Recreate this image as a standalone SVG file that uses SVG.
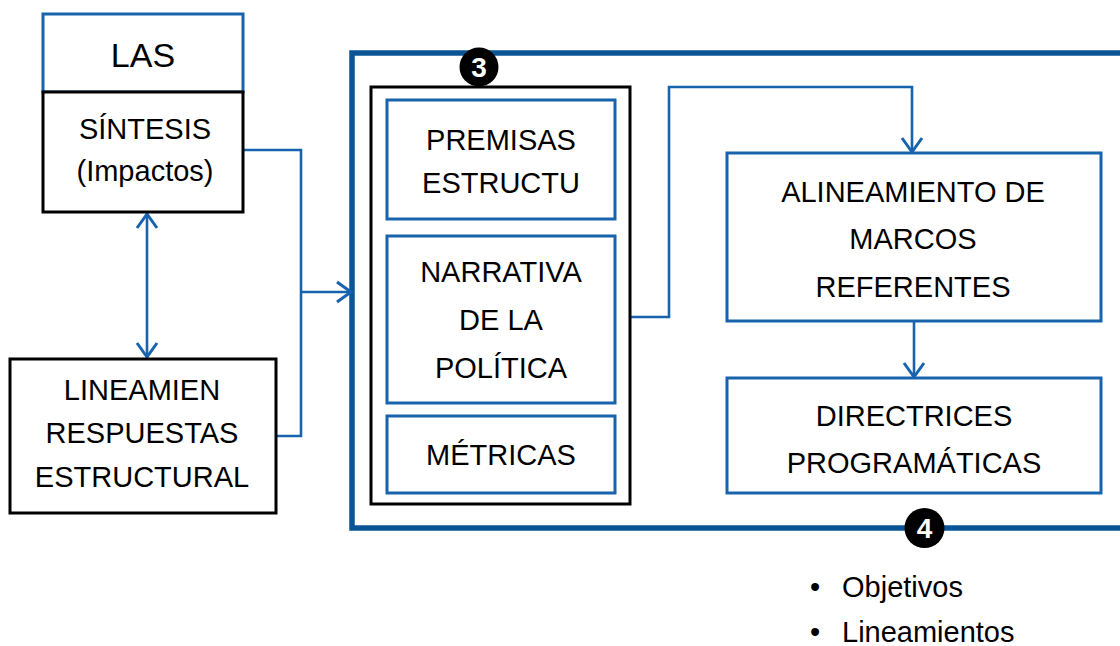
<svg xmlns="http://www.w3.org/2000/svg" width="1120" height="646" viewBox="0 0 1120 646">
<defs>
<style>
.t{font-family:"Liberation Sans",Arial,sans-serif;font-size:29px;fill:#000;text-anchor:middle}
.bb{fill:#fff;stroke:#1763ae;stroke-width:3}
.kb{fill:#fff;stroke:#000;stroke-width:3}
.c{fill:none;stroke:#1763ae;stroke-width:2.6}
.num{font-family:"Liberation Sans",Arial,sans-serif;font-size:28px;font-weight:bold;fill:#fff;text-anchor:middle}
</style>
<marker id="ah" viewBox="0 0 20 24" refX="17" refY="12" markerWidth="20" markerHeight="24" markerUnits="userSpaceOnUse" orient="auto-start-reverse">
<path d="M3,2 L17,12 L3,22" fill="none" stroke="#1763ae" stroke-width="3"/>
</marker>
</defs>
<rect width="1120" height="646" fill="#fff"/>

<g id="frame">
<rect x="352" y="53" width="790" height="475" fill="none" stroke="#0b5596" stroke-width="5.5"/>
</g>

<g id="connectors">
<path class="c" d="M243,150 H301 V436 H276"/>
<path class="c" d="M301,292 H351" marker-end="url(#ah)"/>
<path class="c" d="M147,214 V357" marker-start="url(#ah)" marker-end="url(#ah)"/>
<path class="c" d="M615,317 H669 V87 H912 V152" marker-end="url(#ah)"/>
<path class="c" d="M914,321 V377" marker-end="url(#ah)"/>
</g>

<g id="las">
<rect x="43" y="14" width="200" height="78" class="bb"/>
<text class="t" x="143" y="67" style="font-size:34px">LAS</text>
</g>
<g id="sintesis">
<rect x="43" y="92" width="200" height="120" class="kb"/>
<text class="t" x="145" y="139">SÍNTESIS</text>
<text class="t" x="145" y="181">(Impactos)</text>
</g>
<g id="lineamien">
<rect x="10" y="359" width="266" height="154" class="kb"/>
<text class="t" x="142" y="400">LINEAMIEN</text>
<text class="t" x="142" y="443">RESPUESTAS</text>
<text class="t" x="142" y="487">ESTRUCTURAL</text>
</g>

<g id="group3">
<rect x="371" y="87" width="259" height="417" class="kb"/>
</g>
<g id="premisas">
<rect x="387" y="100" width="228" height="119" class="bb"/>
<text class="t" x="501" y="150">PREMISAS</text>
<text class="t" x="501" y="193">ESTRUCTU</text>
</g>
<g id="narrativa">
<rect x="387" y="236" width="228" height="167" class="bb"/>
<text class="t" x="501" y="282">NARRATIVA</text>
<text class="t" x="501" y="330">DE LA</text>
<text class="t" x="501" y="378">POLÍTICA</text>
</g>
<g id="metricas">
<rect x="387" y="416" width="228" height="77" class="bb"/>
<text class="t" x="501" y="465">MÉTRICAS</text>
</g>
<g id="badge3">
<circle cx="479" cy="67" r="19.5" fill="#000"/>
<text class="num" x="479" y="77">3</text>
</g>

<g id="alineamiento">
<rect x="727" y="153" width="374" height="168" class="bb"/>
<text class="t" x="913" y="202">ALINEAMIENTO DE</text>
<text class="t" x="913" y="249">MARCOS</text>
<text class="t" x="913" y="297">REFERENTES</text>
</g>
<g id="directrices">
<rect x="727" y="378" width="374" height="115" class="bb"/>
<text class="t" x="914" y="426">DIRECTRICES</text>
<text class="t" x="914" y="473">PROGRAMÁTICAS</text>
</g>
<g id="badge4">
<circle cx="924.5" cy="528" r="20" fill="#000"/>
<text class="num" x="924.5" y="538">4</text>
</g>

<g id="bullets">
<text class="t" x="815" y="597">•</text>
<text class="t" x="842" y="597" style="text-anchor:start">Objetivos</text>
<text class="t" x="815" y="642">•</text>
<text class="t" x="842" y="642" style="text-anchor:start">Lineamientos</text>
</g>
</svg>
